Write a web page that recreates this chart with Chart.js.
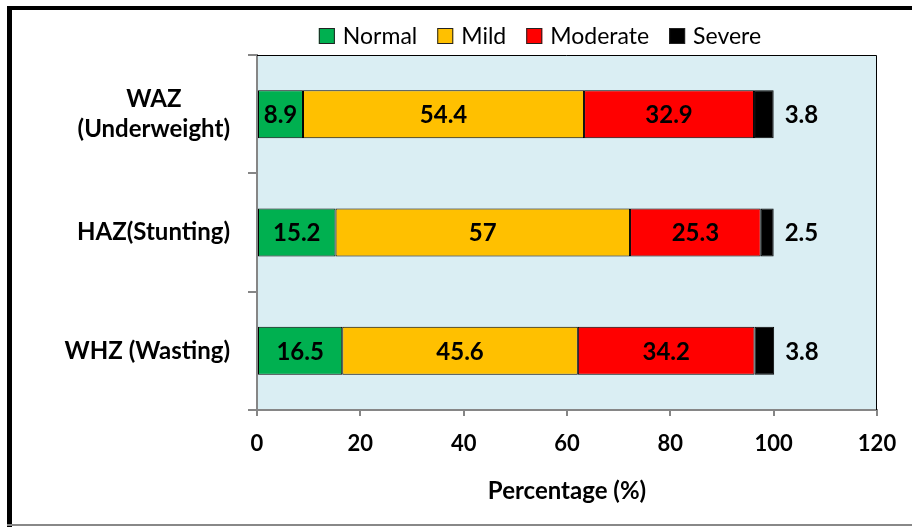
<!DOCTYPE html>
<html>
<head>
<meta charset="utf-8">
<script src="https://cdn.jsdelivr.net/npm/chart.js@4"></script>
<style>
  html, body { margin: 0; padding: 0; background: #fff; }
  #wrap { width: 912px; height: 527px; position: relative; }
</style>
</head>
<body>
<div id="wrap"><canvas id="nutChart"></canvas></div>
<script>
// Data
const categories = [['WAZ', '(Underweight)'], 'HAZ(Stunting)', 'WHZ (Wasting)'];
const normal = [8.9, 15.2, 16.5];
const mild = [54.4, 57, 45.6];
const moderate = [32.9, 25.3, 34.2];
const severe = [3.8, 2.5, 3.8];
const seriesNames = ['Normal', 'Mild', 'Moderate', 'Severe'];
const seriesColors = ['#00B050', '#FFC000', '#FF0000', '#000000'];

const FONT = 'Lato, Calibri, "Liberation Sans", sans-serif';

// frame around the whole picture + plot area fill
const framePlugin = {
  id: 'frame',
  beforeDraw(chart) {
    const ctx = chart.ctx, a = chart.chartArea;
    ctx.save();
    ctx.fillStyle = '#DAEEF3';
    ctx.fillRect(a.left, a.top, a.right - a.left, a.bottom - a.top);
    ctx.fillStyle = '#000';
    ctx.fillRect(7, 6, 5, 521);
    ctx.fillRect(7, 6, 905, 4);
    ctx.fillStyle = '#888';
    ctx.fillRect(7, 524, 905, 2);
    ctx.restore();
  },
  afterDatasetsDraw(chart) {
    const ctx = chart.ctx, a = chart.chartArea;
    ctx.save();
    ctx.strokeStyle = '#000';
    ctx.lineWidth = 1;
    ctx.beginPath();
    ctx.moveTo(a.left, a.top + 0.5);
    ctx.lineTo(a.right - 0.5, a.top + 0.5);
    ctx.lineTo(a.right - 0.5, a.bottom);
    ctx.stroke();
    ctx.restore();
  }
};

// legend drawn by hand so it can sit where the original one is
const legendPlugin = {
  id: 'manualLegend',
  afterDraw(chart) {
    const ctx = chart.ctx;
    ctx.save();
    ctx.font = '23px ' + FONT;
    const box = 16, gap = 8, space = 20;
    const widths = seriesNames.map(n => box + gap + ctx.measureText(n).width);
    const total = widths.reduce((s, w) => s + w, 0) + space * (seriesNames.length - 1);
    let x = 540 - total / 2;
    const y = 36;
    ctx.textBaseline = 'middle';
    ctx.textAlign = 'left';
    seriesNames.forEach((n, i) => {
      ctx.fillStyle = seriesColors[i];
      ctx.fillRect(x, y - box / 2, box, box);
      ctx.strokeStyle = '#222';
      ctx.lineWidth = 1;
      ctx.strokeRect(x + 0.5, y - box / 2 + 0.5, box - 1, box - 1);
      ctx.fillStyle = '#000';
      ctx.fillText(n, x + box + gap, y + 1);
      x += widths[i] + space;
    });
    ctx.restore();
  }
};

// category labels: right aligned, two-line label centred on its widest line
const yLabelPlugin = {
  id: 'yLabels',
  afterDraw(chart) {
    const ctx = chart.ctx, ys = chart.scales.y;
    const right = chart.chartArea.left - 27;
    ctx.save();
    ctx.font = 'bold 24px ' + FONT;
    ctx.fillStyle = '#000';
    ctx.textBaseline = 'middle';
    ctx.textAlign = 'center';
    categories.forEach((c, i) => {
      const lines = Array.isArray(c) ? c : [c];
      const w = Math.max(...lines.map(l => ctx.measureText(l).width));
      const cy = ys.getPixelForValue(i);
      const lh = 30;
      lines.forEach((l, k) => {
        ctx.fillText(l, right - w / 2, cy + (k - (lines.length - 1) / 2) * lh);
      });
    });
    ctx.restore();
  }
};

// value labels: inside for the first three series, to the right for Severe
const labelPlugin = {
  id: 'barLabels',
  afterDatasetsDraw(chart) {
    const ctx = chart.ctx;
    ctx.save();
    ctx.font = 'bold 24px ' + FONT;
    ctx.fillStyle = '#000';
    ctx.textBaseline = 'middle';
    chart.data.datasets.forEach((ds, i) => {
      const meta = chart.getDatasetMeta(i);
      meta.data.forEach((bar, j) => {
        const v = ds.data[j];
        if (i === 3) {
          ctx.textAlign = 'left';
          ctx.fillText(String(v), bar.x + 11, bar.y + 1);
        } else {
          ctx.textAlign = 'center';
          ctx.fillText(String(v), (bar.x + bar.base) / 2, bar.y + 1);
        }
      });
    });
    ctx.restore();
  }
};

const allSeries = [normal, mild, moderate, severe];

new Chart(document.getElementById('nutChart'), {
  type: 'bar',
  data: {
    labels: categories,
    datasets: allSeries.map((d, i) => ({
      label: seriesNames[i],
      data: d,
      backgroundColor: seriesColors[i],
      borderColor: '#000',
      borderWidth: 1,
      borderSkipped: false,
      barPercentage: 0.406,
      categoryPercentage: 1
    }))
  },
  options: {
    indexAxis: 'y',
    responsive: true,
    maintainAspectRatio: false,
    animation: false,
    layout: { padding: { left: 14, right: 35, top: 55, bottom: 21 } },
    plugins: {
      legend: { display: false },
      tooltip: { enabled: false }
    },
    scales: {
      x: {
        stacked: true,
        min: 0,
        max: 120,
        ticks: {
          stepSize: 20,
          color: '#000',
          font: { family: FONT, size: 22, weight: 'bold' },
          padding: 15
        },
        grid: { drawOnChartArea: false, drawTicks: true, tickLength: 6, color: '#868686', lineWidth: 2 },
        border: { color: '#868686', width: 2 },
        title: {
          display: true,
          text: 'Percentage (%)',
          color: '#000',
          font: { family: FONT, size: 24, weight: 'bold' },
          padding: { top: 10, bottom: 0 }
        },
        afterFit(s) { s.height = 96; }
      },
      y: {
        stacked: true,
        ticks: { display: false },
        grid: { offset: true, drawOnChartArea: false, drawTicks: true, tickLength: 9, color: '#868686', lineWidth: 2 },
        border: { color: '#868686', width: 2 },
        afterFit(s) { s.width = 243; }
      }
    }
  },
  plugins: [framePlugin, labelPlugin, legendPlugin, yLabelPlugin]
});
</script>
</body>
</html>
